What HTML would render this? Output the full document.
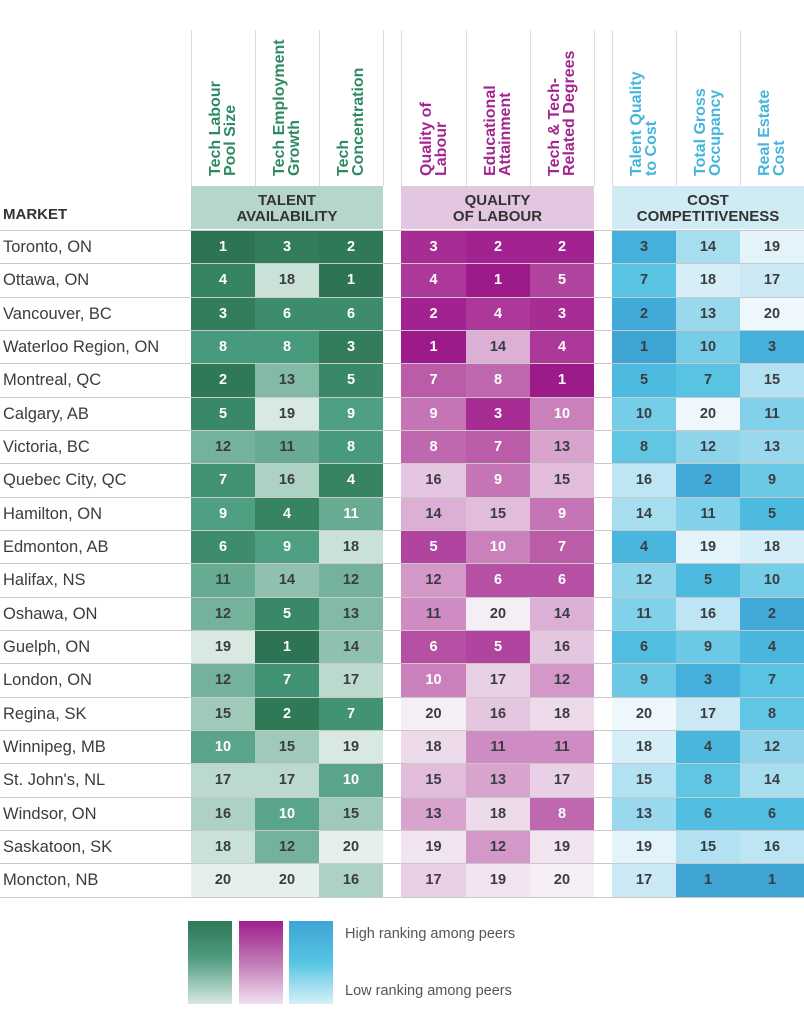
<!DOCTYPE html>
<html><head><meta charset="utf-8">
<style>
*{margin:0;padding:0;box-sizing:border-box}
body{width:804px;height:1024px;background:#fff;position:relative;overflow:hidden;font-family:"Liberation Sans",sans-serif}
.vl{position:absolute;top:30px;height:156px;width:1px;background:#dcdcdc}
.hd{position:absolute;top:30px;height:146px;display:flex;justify-content:center}
.hd div{writing-mode:vertical-rl;transform:rotate(180deg);font-weight:bold;font-size:16px;line-height:15px;white-space:nowrap;text-align:left}
.gt div{color:#2e8a63}.pt div{color:#a3258e}.bt div{color:#45b5dd}
.band{position:absolute;top:186px;height:43px;text-align:center;font-weight:bold;font-size:15px;line-height:16px;color:#333;padding-top:7px}
#mk{position:absolute;left:3px;top:207px;font-weight:bold;font-size:15px;line-height:16px;color:#333}
#rows{position:absolute;left:0;top:230px;width:804px}
.r{position:relative;height:33.333px;border-top:1px solid #c9c9c9}
.m{position:absolute;left:3px;top:0;line-height:32px;font-size:16.5px;color:#3c3c3c;white-space:nowrap}
.r i{position:absolute;top:0;bottom:0;display:flex;align-items:center;justify-content:center;font-style:normal;font-weight:bold;font-size:14.5px;color:#3a3d40}
.r i.w{color:#fff}
.a{left:191px;width:64px}.b{left:255px;width:64px}.c{left:319px;width:64px}
.d{left:401px;width:65px}.e{left:466px;width:64px}.f{left:530px;width:64px}
.h{left:612px;width:64px}.j{left:676px;width:64px}.k{left:740px;width:64px}
.g1{background:#2e7354}.g2{background:#307957}.g3{background:#337d5c}.g4{background:#368462}.g5{background:#398867}
.g6{background:#3d8d6d}.g7{background:#419373}.g8{background:#479a7b}.g9{background:#4f9f82}.g10{background:#5aa58a}
.g11{background:#66ab92}.g12{background:#74b29b}.g13{background:#82baa5}.g14{background:#90c1af}.g15{background:#9fc9b9}
.g16{background:#add1c3}.g17{background:#bcd9cd}.g18{background:#cae1d7}.g19{background:#d8e9e1}.g20{background:#e6f0eb}
.p1{background:#9c1a8a}.p2{background:#a2238f}.p3{background:#a72d94}.p4{background:#ac3899}.p5{background:#b1449e}
.p6{background:#b650a4}.p7{background:#bb5ca9}.p8{background:#c068af}.p9{background:#c574b5}.p10{background:#ca80bb}
.p11{background:#cf8cc2}.p12{background:#d398c8}.p13{background:#d8a4ce}.p14{background:#dcb0d5}.p15{background:#e1bcdb}
.p16{background:#e5c6e1}.p17{background:#e9d0e6}.p18{background:#eddaeb}.p19{background:#f1e4f0}.p20{background:#f5eef5}
.b1{background:#3da4d4}.b2{background:#41aad8}.b3{background:#45b0db}.b4{background:#49b6de}.b5{background:#4dbbe0}
.b6{background:#52bfe2}.b7{background:#58c3e3}.b8{background:#61c6e4}.b9{background:#6bc9e6}.b10{background:#76cde8}
.b11{background:#82d1ea}.b12{background:#8ed5eb}.b13{background:#9ad9ed}.b14{background:#a6ddef}.b15{background:#b2e1f1}
.b16{background:#bee5f3}.b17{background:#cae9f5}.b18{background:#d6eef7}.b19{background:#e2f3f9}.b20{background:#eef7fb}
.lg{position:absolute;top:921px;height:83px;width:44px}
.lt{position:absolute;left:345px;font-size:14.5px;color:#555;white-space:nowrap}
</style></head><body>

<div class="vl" style="left:191px"></div><div class="vl" style="left:255px"></div><div class="vl" style="left:319px"></div><div class="vl" style="left:383px"></div>
<div class="vl" style="left:401px"></div><div class="vl" style="left:466px"></div><div class="vl" style="left:530px"></div><div class="vl" style="left:594px"></div>
<div class="vl" style="left:612px"></div><div class="vl" style="left:676px"></div><div class="vl" style="left:740px"></div>

<div class="hd gt" style="left:191px;width:64px"><div>Tech Labour<br>Pool Size</div></div>
<div class="hd gt" style="left:255px;width:64px"><div>Tech Employment<br>Growth</div></div>
<div class="hd gt" style="left:319px;width:64px"><div>Tech<br>Concentration</div></div>
<div class="hd pt" style="left:401px;width:65px"><div>Quality of<br>Labour</div></div>
<div class="hd pt" style="left:466px;width:64px"><div>Educational<br>Attainment</div></div>
<div class="hd pt" style="left:530px;width:64px"><div>Tech &amp; Tech-<br>Related Degrees</div></div>
<div class="hd bt" style="left:612px;width:64px"><div>Talent Quality<br>to Cost</div></div>
<div class="hd bt" style="left:676px;width:64px"><div>Total Gross<br>Occupancy</div></div>
<div class="hd bt" style="left:740px;width:64px"><div>Real Estate<br>Cost</div></div>

<div class="band" style="left:191px;width:192px;background:#b6d6c9">TALENT<br>AVAILABILITY</div>
<div class="band" style="left:401px;width:193px;background:#e3c7e0">QUALITY<br>OF LABOUR</div>
<div class="band" style="left:612px;width:192px;background:#d1ebf5">COST<br>COMPETITIVENESS</div>
<div id="mk">MARKET</div>

<div id="rows">
<div class="r"><span class="m">Toronto, ON</span><i class="a g1 w">1</i><i class="b g3 w">3</i><i class="c g2 w">2</i><i class="d p3 w">3</i><i class="e p2 w">2</i><i class="f p2 w">2</i><i class="h b3">3</i><i class="j b14">14</i><i class="k b19">19</i></div>
<div class="r"><span class="m">Ottawa, ON</span><i class="a g4 w">4</i><i class="b g18">18</i><i class="c g1 w">1</i><i class="d p4 w">4</i><i class="e p1 w">1</i><i class="f p5 w">5</i><i class="h b7">7</i><i class="j b18">18</i><i class="k b17">17</i></div>
<div class="r"><span class="m">Vancouver, BC</span><i class="a g3 w">3</i><i class="b g6 w">6</i><i class="c g6 w">6</i><i class="d p2 w">2</i><i class="e p4 w">4</i><i class="f p3 w">3</i><i class="h b2">2</i><i class="j b13">13</i><i class="k b20">20</i></div>
<div class="r"><span class="m">Waterloo Region, ON</span><i class="a g8 w">8</i><i class="b g8 w">8</i><i class="c g3 w">3</i><i class="d p1 w">1</i><i class="e p14">14</i><i class="f p4 w">4</i><i class="h b1">1</i><i class="j b10">10</i><i class="k b3">3</i></div>
<div class="r"><span class="m">Montreal, QC</span><i class="a g2 w">2</i><i class="b g13">13</i><i class="c g5 w">5</i><i class="d p7 w">7</i><i class="e p8 w">8</i><i class="f p1 w">1</i><i class="h b5">5</i><i class="j b7">7</i><i class="k b15">15</i></div>
<div class="r"><span class="m">Calgary, AB</span><i class="a g5 w">5</i><i class="b g19">19</i><i class="c g9 w">9</i><i class="d p9 w">9</i><i class="e p3 w">3</i><i class="f p10 w">10</i><i class="h b10">10</i><i class="j b20">20</i><i class="k b11">11</i></div>
<div class="r"><span class="m">Victoria, BC</span><i class="a g12">12</i><i class="b g11">11</i><i class="c g8 w">8</i><i class="d p8 w">8</i><i class="e p7 w">7</i><i class="f p13">13</i><i class="h b8">8</i><i class="j b12">12</i><i class="k b13">13</i></div>
<div class="r"><span class="m">Quebec City, QC</span><i class="a g7 w">7</i><i class="b g16">16</i><i class="c g4 w">4</i><i class="d p16">16</i><i class="e p9 w">9</i><i class="f p15">15</i><i class="h b16">16</i><i class="j b2">2</i><i class="k b9">9</i></div>
<div class="r"><span class="m">Hamilton, ON</span><i class="a g9 w">9</i><i class="b g4 w">4</i><i class="c g11 w">11</i><i class="d p14">14</i><i class="e p15">15</i><i class="f p9 w">9</i><i class="h b14">14</i><i class="j b11">11</i><i class="k b5">5</i></div>
<div class="r"><span class="m">Edmonton, AB</span><i class="a g6 w">6</i><i class="b g9 w">9</i><i class="c g18">18</i><i class="d p5 w">5</i><i class="e p10 w">10</i><i class="f p7 w">7</i><i class="h b4">4</i><i class="j b19">19</i><i class="k b18">18</i></div>
<div class="r"><span class="m">Halifax, NS</span><i class="a g11">11</i><i class="b g14">14</i><i class="c g12">12</i><i class="d p12">12</i><i class="e p6 w">6</i><i class="f p6 w">6</i><i class="h b12">12</i><i class="j b5">5</i><i class="k b10">10</i></div>
<div class="r"><span class="m">Oshawa, ON</span><i class="a g12">12</i><i class="b g5 w">5</i><i class="c g13">13</i><i class="d p11">11</i><i class="e p20">20</i><i class="f p14">14</i><i class="h b11">11</i><i class="j b16">16</i><i class="k b2">2</i></div>
<div class="r"><span class="m">Guelph, ON</span><i class="a g19">19</i><i class="b g1 w">1</i><i class="c g14">14</i><i class="d p6 w">6</i><i class="e p5 w">5</i><i class="f p16">16</i><i class="h b6">6</i><i class="j b9">9</i><i class="k b4">4</i></div>
<div class="r"><span class="m">London, ON</span><i class="a g12">12</i><i class="b g7 w">7</i><i class="c g17">17</i><i class="d p10 w">10</i><i class="e p17">17</i><i class="f p12">12</i><i class="h b9">9</i><i class="j b3">3</i><i class="k b7">7</i></div>
<div class="r"><span class="m">Regina, SK</span><i class="a g15">15</i><i class="b g2 w">2</i><i class="c g7 w">7</i><i class="d p20">20</i><i class="e p16">16</i><i class="f p18">18</i><i class="h b20">20</i><i class="j b17">17</i><i class="k b8">8</i></div>
<div class="r"><span class="m">Winnipeg, MB</span><i class="a g10 w">10</i><i class="b g15">15</i><i class="c g19">19</i><i class="d p18">18</i><i class="e p11">11</i><i class="f p11">11</i><i class="h b18">18</i><i class="j b4">4</i><i class="k b12">12</i></div>
<div class="r"><span class="m">St. John's, NL</span><i class="a g17">17</i><i class="b g17">17</i><i class="c g10 w">10</i><i class="d p15">15</i><i class="e p13">13</i><i class="f p17">17</i><i class="h b15">15</i><i class="j b8">8</i><i class="k b14">14</i></div>
<div class="r"><span class="m">Windsor, ON</span><i class="a g16">16</i><i class="b g10 w">10</i><i class="c g15">15</i><i class="d p13">13</i><i class="e p18">18</i><i class="f p8 w">8</i><i class="h b13">13</i><i class="j b6">6</i><i class="k b6">6</i></div>
<div class="r"><span class="m">Saskatoon, SK</span><i class="a g18">18</i><i class="b g12">12</i><i class="c g20">20</i><i class="d p19">19</i><i class="e p12">12</i><i class="f p19">19</i><i class="h b19">19</i><i class="j b15">15</i><i class="k b16">16</i></div>
<div class="r" style="border-bottom:1px solid #c9c9c9;height:34.333px"><span class="m">Moncton, NB</span><i class="a g20">20</i><i class="b g20">20</i><i class="c g16">16</i><i class="d p17">17</i><i class="e p19">19</i><i class="f p20">20</i><i class="h b17">17</i><i class="j b1">1</i><i class="k b1">1</i></div>
</div>

<div class="lg" style="left:188px;background:linear-gradient(#2f7757,#4f9c80 45%,#d8e8e0)"></div>
<div class="lg" style="left:239px;background:linear-gradient(#9e1f8c,#c07ab6 50%,#f0e0f0)"></div>
<div class="lg" style="left:289px;background:linear-gradient(#3fa4d6,#55c5e3 50%,#d7f0f8)"></div>
<div class="lt" style="top:926px">High ranking among peers</div>
<div class="lt" style="top:983px">Low ranking among peers</div>
</body></html>
